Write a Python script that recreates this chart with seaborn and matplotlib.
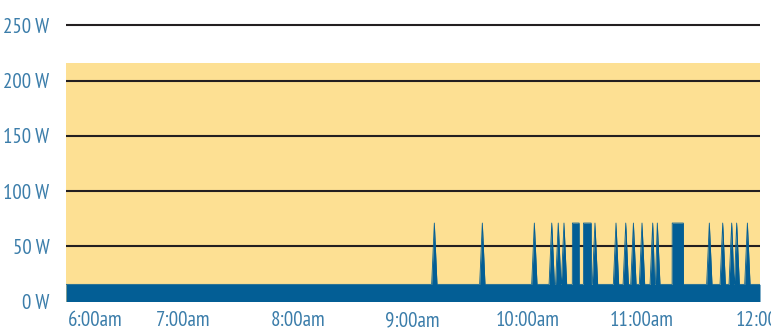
import numpy as np
import pandas as pd
import seaborn as sns
import matplotlib.pyplot as plt

# ---- data (minutes after 6:00am, watts) ----
baseline_w = 15.5
spike_minutes = [191.4, 216.5, 243.7, 252.8, 256.2, 259.2, 275.4, 286.4, 291.5,
                 295.5, 300.0, 305.6, 308.0, 335.2, 342.2, 346.9, 349.5, 355.1]
spike_watts = [71] * len(spike_minutes)
burst_start = [263.6, 269.4, 315.8]
burst_end = [267.1, 273.4, 321.6]
burst_watts = [71, 71, 71]
band_top_w = 216
tick_minutes = [0, 60, 120, 180, 240, 300, 360]
tick_labels = ["6:00am", "7:00am", "8:00am", "9:00am", "10:00am", "11:00am", "12:00"]
y_ticks = [0, 50, 100, 150, 200, 250]
y_labels = ["0 W", "50 W", "100 W", "150 W", "200 W", "250 W"]
x_min, x_max = -1.2, 361.7

# ---- build the series ----
half = 1.4
pts = [(x_min, baseline_w), (x_max, baseline_w)]
for t, w in zip(spike_minutes, spike_watts):
    pts += [(t - half, baseline_w), (t, w), (t + half, baseline_w)]
for s, e, w in zip(burst_start, burst_end, burst_watts):
    pts += [(s - 0.05, baseline_w), (s, w), (e, w), (e + 0.05, baseline_w)]
df = pd.DataFrame(sorted(pts), columns=["minute", "watts"])

sns.set_theme(style="white")
plt.rcParams['font.family'] = ['PT Sans Narrow', 'DejaVu Sans']

BLUE = "#035e95"
YELLOW = "#fde093"
TXT = "#3b7daa"
GRID = "#231f20"

W, H = 771, 330
fig = plt.figure(figsize=(W / 100, H / 100), dpi=100)
ax = fig.add_axes([66 / W, (H - 301.5) / H, (760 - 66) / W, (301.5 - 22.5) / H])
ax.set_xlim(x_min, x_max)
ax.set_ylim(0, (301.5 - 22.5) / 1.105)

ax.axhspan(0, band_top_w, color=YELLOW, lw=0, zorder=0)
for y in y_ticks[1:]:
    ax.axhline(y, color=GRID, lw=1.5, zorder=1)

ax.fill_between(df["minute"], 0, df["watts"], color=BLUE, lw=0, zorder=2)
sns.lineplot(data=df, x="minute", y="watts", color=BLUE, lw=0.6, ax=ax, zorder=3)

for s in ax.spines.values():
    s.set_visible(False)
ax.set_xlabel("")
ax.set_ylabel("")
ax.set_yticks(y_ticks)
ax.set_yticklabels(y_labels, color=TXT, fontsize=15)
ax.set_xticks(tick_minutes)
ax.set_xticklabels(tick_labels, color=TXT, fontsize=15)
ax.tick_params(axis="y", length=0, pad=12)
ax.tick_params(axis="x", length=0, pad=7)
ax.get_xticklabels()[0].set_ha("left")
ax.get_xticklabels()[0].set_x(-3)
ax.grid(False)

fig.savefig("out.png", dpi=100)
